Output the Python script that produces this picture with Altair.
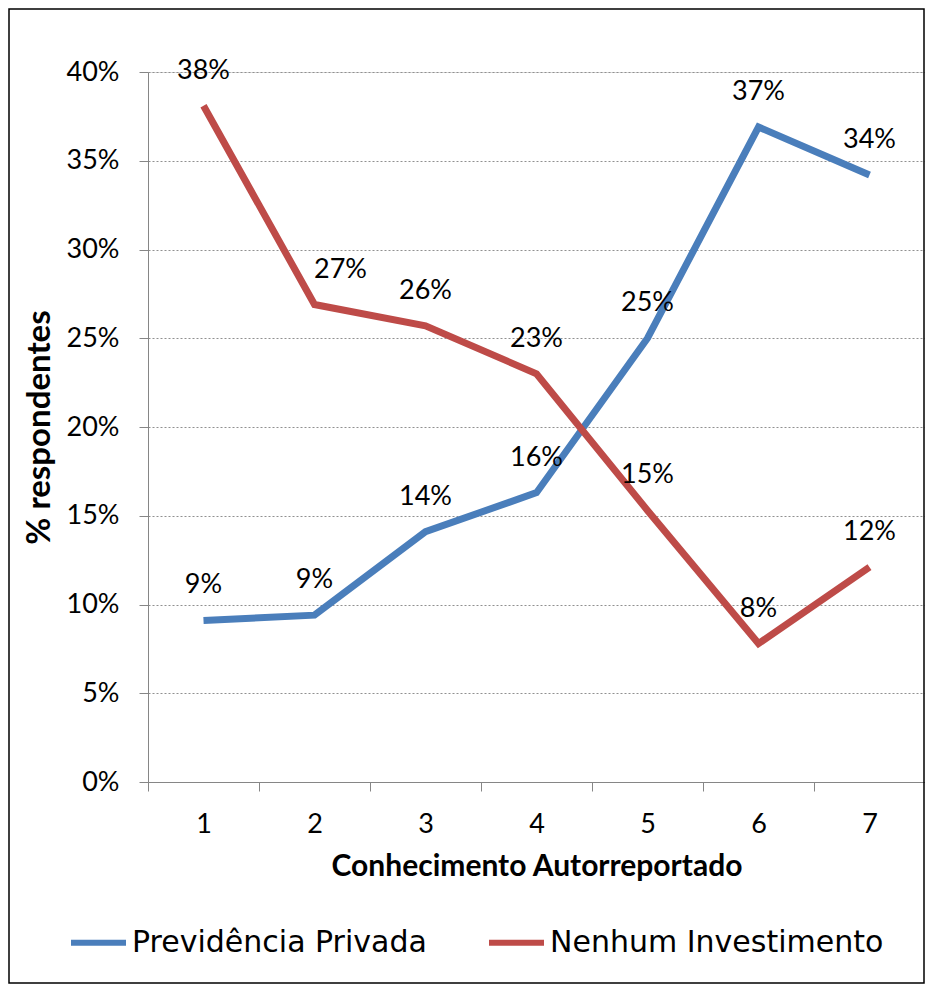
import altair as alt
import pandas as pd

niveis = [1, 2, 3, 4, 5, 6, 7]
previdencia = [0.091, 0.094, 0.141, 0.163, 0.250, 0.369, 0.342]
nenhum = [0.381, 0.269, 0.257, 0.230, 0.153, 0.078, 0.121]
series = ["Previdência Privada", "Nenhum Investimento"]
cores = ["#4A7EBB", "#BE4B48"]
y_ticks = [0, 0.05, 0.10, 0.15, 0.20, 0.25, 0.30, 0.35, 0.40]
x_ticks = [0.5, 1.5, 2.5, 3.5, 4.5, 5.5, 6.5, 7.5]

rows = []
for i, n in enumerate(niveis):
    rows.append({"nivel": n, "serie": series[0], "valor": previdencia[i]})
    rows.append({"nivel": n, "serie": series[1], "valor": nenhum[i]})
df = pd.DataFrame(rows)

W, H = 777, 710
GRAY = "#868686"

x_enc = alt.X(
    "nivel:Q",
    scale=alt.Scale(domain=[0.5, 7.5], nice=False, zero=False),
    axis=alt.Axis(
        values=x_ticks,
        labelExpr="datum.value < 7.4 ? format(datum.value + 0.5, 'd') : ''",
        labelOffset=W / 14,
        labelFlush=False,
        labelOverlap=False,
        labelFont="Lato",
        labelFontSize=27,
        labelColor="black",
        labelPadding=20,
        tickSize=9,
        tickColor=GRAY,
        domainColor=GRAY,
        grid=False,
        title="Conhecimento Autorreportado",
        titleFont="Lato",
        titleFontSize=30,
        titleFontWeight="bold",
        titleColor="black",
        titlePadding=14,
    ),
)
y_enc = alt.Y(
    "valor:Q",
    scale=alt.Scale(domain=[0, 0.4], nice=False),
    axis=alt.Axis(
        values=y_ticks,
        format=".0%",
        labelFont="Lato",
        labelFontSize=27,
        labelColor="black",
        labelPadding=20,
        tickSize=9,
        tickColor=GRAY,
        domainColor=GRAY,
        grid=True,
        gridColor="#909090",
        gridDash=[2, 2],
        gridWidth=1,
        title="% respondentes",
        titleFont="Lato",
        titleFontSize=33,
        titleFontWeight="bold",
        titleColor="black",
        titlePadding=10,
    ),
)

color_enc = alt.Color(
    "serie:N",
    scale=alt.Scale(domain=series, range=cores),
    sort=series,
    legend=alt.Legend(
        title=None,
        orient="none",
        legendX=-80,
        legendY=840,
        direction="horizontal",
        symbolType="stroke",
        symbolSize=3025,
        symbolStrokeWidth=6,
        labelFont="DejaVu Sans",
        labelFontSize=30,
        labelColor="black",
        labelLimit=0,
        labelOffset=3,
        columnPadding=50,
    ),
)

base = alt.Chart(df)

lines = base.mark_line(strokeWidth=7, strokeJoin="miter").encode(
    x=x_enc, y=y_enc, color=color_enc, order="nivel:Q"
)

labels = base.mark_text(font="Lato", fontSize=27, color="black", dy=-35).encode(
    x="nivel:Q", y="valor:Q", text=alt.Text("valor:Q", format=".0%")
).transform_filter("!(datum.nivel == 2 && datum.serie == 'Nenhum Investimento')")

label_shift = base.mark_text(font="Lato", fontSize=27, color="black", dy=-35, dx=26).encode(
    x="nivel:Q", y="valor:Q", text=alt.Text("valor:Q", format=".0%")
).transform_filter("datum.nivel == 2 && datum.serie == 'Nenhum Investimento'")

frame = alt.Chart(alt.Data(values=[{"a": 1}])).mark_rect(
    fillOpacity=0, stroke="black", strokeWidth=1.5
).encode(
    x=alt.value(-139), x2=alt.value(776), y=alt.value(-63), y2=alt.value(911)
)

chart = alt.layer(lines, labels, label_shift, frame).properties(
    width=W,
    height=H,
    autosize="none",
    padding={"left": 140, "top": 64, "right": 0, "bottom": 204},
).configure_view(stroke=None).configure(background="white")

chart.save("out.html", embed_options={"renderer": "svg", "actions": False})
